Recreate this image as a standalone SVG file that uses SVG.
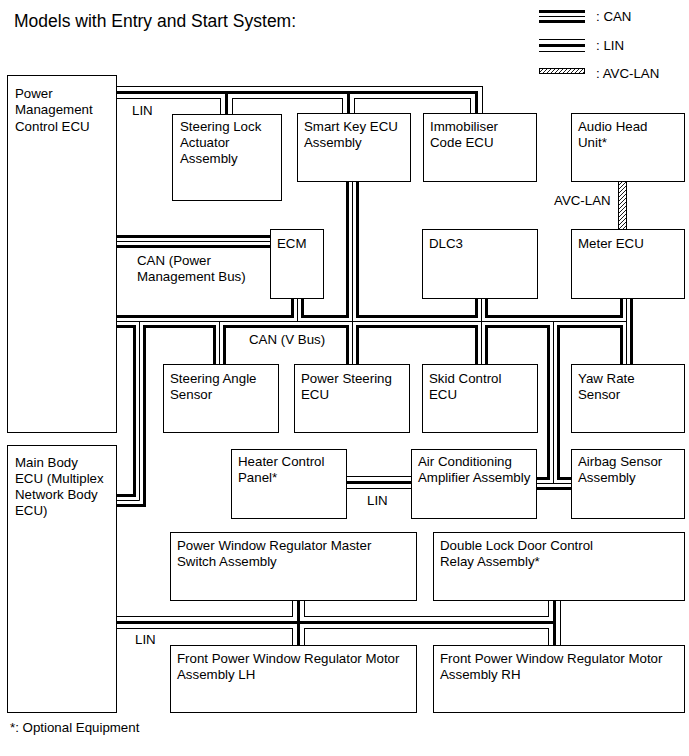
<svg xmlns="http://www.w3.org/2000/svg" xmlns:xlink="http://www.w3.org/1999/xlink" width="689" height="756" viewBox="0 0 689 756">
<style>
text{font-family:"Liberation Sans",Arial,sans-serif;font-size:13.3px;fill:#000}
.title{font-size:17.5px}
.box rect{fill:#fff;stroke:#000;stroke-width:1}
.lin-o{fill:none;stroke:#000;stroke-width:13;stroke-linejoin:miter;stroke-linecap:butt}
.lin-w{fill:none;stroke:#fff;stroke-width:11;stroke-linejoin:miter;stroke-linecap:butt}
.lin-c{fill:none;stroke:#000;stroke-width:3;stroke-linejoin:miter;stroke-linecap:butt}
.can-o{fill:none;stroke:#000;stroke-width:13;stroke-linejoin:miter;stroke-linecap:butt}
.can-w{fill:none;stroke:#fff;stroke-width:7;stroke-linejoin:miter;stroke-linecap:butt}
.can-c{fill:none;stroke:#000;stroke-width:1;stroke-linejoin:miter;stroke-linecap:butt}
.avc{fill:url(#hatch);stroke:#000;stroke-width:1}
</style>
<defs>
<pattern id="hatch" patternUnits="userSpaceOnUse" width="4" height="4">
<path d="M-1,1 L1,-1 M0,4 L4,0 M3,5 L5,3" stroke="#000" stroke-width="0.9"/>
</pattern>
<path id="linTop" d="M116,92.5 H476.5 V114 M226.5,92.5 V115 M348.5,92.5 V114"/>
<path id="linHvac" d="M346,482.5 H412"/>
<path id="linBottom" d="M116,622.5 H554.5 M298.5,600 V646 M554.5,600 V646"/>
<path id="canPm" d="M116,241.5 H271"/>
<path id="canV" d="M116,321.5 H626.5 M139.5,321.5 V500.5 H116 M219.5,321.5 V365 M297.5,298 V321.5 M352.5,181 V365 M481.5,298 V365 M553.5,321.5 V483.5 M536,483.5 H572 M626.5,298 V365"/>
<path id="legCan" d="M539,16.5 H585"/>
<path id="legLin" d="M539,45.5 H585"/>
</defs>

<text class="title" x="14" y="27">Models with Entry and Start System:</text>

<g id="legend">
<use xlink:href="#legCan" class="can-o"/><use xlink:href="#legCan" class="can-w"/><use xlink:href="#legCan" class="can-c"/>
<use xlink:href="#legLin" class="lin-o"/><use xlink:href="#legLin" class="lin-w"/><use xlink:href="#legLin" class="lin-c"/>
<rect class="avc" x="539.5" y="68.5" width="45" height="5"/>
<text x="596" y="21">: CAN</text>
<text x="596" y="49.5">: LIN</text>
<text x="596" y="78">: AVC-LAN</text>
</g>

<g id="connectors">
<use xlink:href="#linTop" class="lin-o"/><use xlink:href="#linTop" class="lin-w"/><use xlink:href="#linTop" class="lin-c"/>
<use xlink:href="#linHvac" class="lin-o"/><use xlink:href="#linHvac" class="lin-w"/><use xlink:href="#linHvac" class="lin-c"/>
<use xlink:href="#linBottom" class="lin-o"/><use xlink:href="#linBottom" class="lin-w"/><use xlink:href="#linBottom" class="lin-c"/>
<use xlink:href="#canPm" class="can-o"/><use xlink:href="#canPm" class="can-w"/><use xlink:href="#canPm" class="can-c"/>
<use xlink:href="#canV" class="can-o"/><use xlink:href="#canV" class="can-w"/><use xlink:href="#canV" class="can-c"/>
<rect class="avc" x="618.5" y="181.5" width="8" height="48"/>
<text x="132" y="115">LIN</text>
<text x="137" y="264.5">CAN (Power</text>
<text x="137" y="280.5">Management Bus)</text>
<text x="249" y="344">CAN (V Bus)</text>
<text x="554" y="205">AVC-LAN</text>
<text x="367" y="505">LIN</text>
<text x="135" y="644">LIN</text>
</g>

<g id="pm-ecu" class="box"><rect x="7.5" y="75.5" width="109" height="357"/><text x="15" y="98">Power</text><text x="15" y="114.3">Management</text><text x="15" y="130.6">Control ECU</text></g>
<g id="main-body-ecu" class="box"><rect x="7.5" y="445.5" width="109" height="267"/><text x="15" y="466.5">Main Body</text><text x="15" y="482.5">ECU (Multiplex</text><text x="15" y="498.5">Network Body</text><text x="15" y="514.5">ECU)</text></g>
<g id="steering-lock" class="box"><rect x="172.5" y="114.5" width="109" height="86"/><text x="180" y="131">Steering Lock</text><text x="180" y="147">Actuator</text><text x="180" y="163">Assembly</text></g>
<g id="smart-key" class="box"><rect x="297.5" y="113.5" width="113" height="68"/><text x="304" y="131">Smart Key ECU</text><text x="304" y="147">Assembly</text></g>
<g id="immobiliser" class="box"><rect x="423.5" y="113.5" width="113" height="68"/><text x="430" y="131">Immobiliser</text><text x="430" y="147">Code ECU</text></g>
<g id="audio" class="box"><rect x="571.5" y="113.5" width="113" height="68"/><text x="578" y="131">Audio Head</text><text x="578" y="147">Unit*</text></g>
<g id="ecm" class="box"><rect x="270.5" y="229.5" width="53" height="69"/><text x="277" y="247.5">ECM</text></g>
<g id="dlc3" class="box"><rect x="422.5" y="229.5" width="115" height="69"/><text x="429" y="247.5">DLC3</text></g>
<g id="meter" class="box"><rect x="571.5" y="229.5" width="113" height="69"/><text x="578" y="247.5">Meter ECU</text></g>
<g id="steering-angle" class="box"><rect x="163.5" y="364.5" width="115" height="68"/><text x="170" y="383">Steering Angle</text><text x="170" y="399">Sensor</text></g>
<g id="power-steering" class="box"><rect x="294.5" y="364.5" width="115" height="68"/><text x="301" y="383">Power Steering</text><text x="301" y="399">ECU</text></g>
<g id="skid" class="box"><rect x="422.5" y="364.5" width="115" height="68"/><text x="429" y="383">Skid Control</text><text x="429" y="399">ECU</text></g>
<g id="yaw" class="box"><rect x="571.5" y="364.5" width="113" height="68"/><text x="578" y="383">Yaw Rate</text><text x="578" y="399">Sensor</text></g>
<g id="heater" class="box"><rect x="231.5" y="449.5" width="115" height="69"/><text x="238" y="466">Heater Control</text><text x="238" y="482">Panel*</text></g>
<g id="ac-amp" class="box"><rect x="411.5" y="449.5" width="125" height="69"/><text x="418" y="466">Air Conditioning</text><text x="418" y="482">Amplifier Assembly</text></g>
<g id="airbag" class="box"><rect x="571.5" y="449.5" width="113" height="69"/><text x="578" y="466">Airbag Sensor</text><text x="578" y="482">Assembly</text></g>
<g id="pw-master" class="box"><rect x="170.5" y="532.5" width="246" height="68"/><text x="177" y="549.5">Power Window Regulator Master</text><text x="177" y="565.5">Switch Assembly</text></g>
<g id="double-lock" class="box"><rect x="433.5" y="532.5" width="251" height="68"/><text x="440" y="549.5">Double Lock Door Control</text><text x="440" y="565.5">Relay Assembly*</text></g>
<g id="front-lh" class="box"><rect x="170.5" y="645.5" width="246" height="67"/><text x="177" y="663">Front Power Window Regulator Motor</text><text x="177" y="679">Assembly LH</text></g>
<g id="front-rh" class="box"><rect x="433.5" y="645.5" width="251" height="67"/><text x="440" y="663">Front Power Window Regulator Motor</text><text x="440" y="679">Assembly RH</text></g>

<text x="10" y="732">*: Optional Equipment</text>
</svg>
